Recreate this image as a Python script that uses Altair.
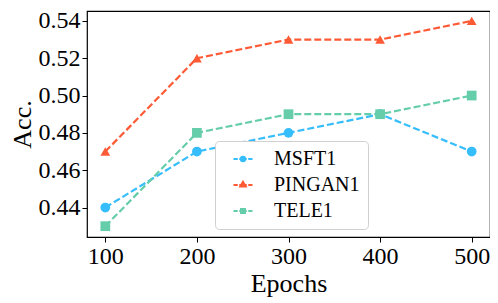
import altair as alt
import pandas as pd

epochs = [100, 200, 300, 400, 500]
series_names = ["MSFT1", "PINGAN1", "TELE1"]
msft1 = [0.44, 0.47, 0.48, 0.49, 0.47]
pingan1 = [0.47, 0.52, 0.53, 0.53, 0.54]
tele1 = [0.43, 0.48, 0.49, 0.49, 0.50]
colors = ["#36bdfb", "#fe5a36", "#66cdaa"]
shapes = ["circle", "triangle-up", "square"]
y_ticks = [0.44, 0.46, 0.48, 0.50, 0.52, 0.54]

rows = []
for name, vals in zip(series_names, [msft1, pingan1, tele1]):
    for e, v in zip(epochs, vals):
        rows.append({"Epochs": e, "Acc": v, "Series": name})
df = pd.DataFrame(rows)

font = "Liberation Serif"

# legend symbols: dashed line segment with a marker in the middle
dash = "M-1.9,0L-1.05,0M-0.75,0L0.75,0M1.05,0L1.9,0"


def circ(r):
    return f"M{-r},0A{r},{r},0,1,1,{r},0A{r},{r},0,1,1,{-r},0Z"


def tri(R):
    return f"M0,{-R}L{0.866 * R:.3f},{0.5 * R:.3f}L{-0.866 * R:.3f},{0.5 * R:.3f}Z"


def sq(h):
    return f"M{-h},{-h}L{h},{-h}L{h},{h}L{-h},{h}Z"


legend_paths = [
    dash + circ(0.42) + circ(0.18),
    dash + tri(0.6) + tri(0.28),
    dash + sq(0.38) + sq(0.15),
]

x = alt.X("Epochs:Q", scale=alt.Scale(domain=[80, 520], nice=False, zero=False),
          axis=alt.Axis(values=epochs, title="Epochs", format="d"))
y = alt.Y("Acc:Q", scale=alt.Scale(domain=[0.4242, 0.5453], nice=False, zero=False),
          axis=alt.Axis(values=y_ticks, title="Acc.", format=".2f"))
color_scale = alt.Scale(domain=series_names, range=colors)
color = alt.Color("Series:N", scale=color_scale, legend=None)

lines = alt.Chart(df).mark_line(strokeDash=[7, 3], strokeWidth=2.2).encode(x=x, y=y, color=color)

point_layers = []
for name, shp in zip(series_names, shapes):
    point_layers.append(
        alt.Chart(df).transform_filter(alt.datum.Series == name).mark_point(
            filled=True, size=95, opacity=1, shape=shp
        ).encode(x=x, y=y, color=color)
    )

leg = alt.Legend(title=None, orient="none", legendX=128, legendY=130)
legend_layer = alt.Chart(df).transform_filter("false").mark_point(
    filled=False, size=400, strokeWidth=2.2, opacity=1
).encode(
    x=x, y=y,
    color=alt.Color("Series:N", scale=color_scale, legend=leg),
    shape=alt.Shape("Series:N", scale=alt.Scale(domain=series_names, range=legend_paths), legend=leg),
)

chart = alt.layer(lines, *point_layers, legend_layer).resolve_scale(
    color="independent", shape="independent"
).properties(
    width=403, height=226,
    autosize=alt.AutoSizeParams(type="none"),
    padding={"left": 79, "top": 3, "right": 0, "bottom": 66},
).configure_view(stroke="black", strokeWidth=1.2).configure_axis(
    grid=False, domain=False, tickColor="black", tickSize=5, tickWidth=1,
    labelFont=font, labelFontSize=24, labelColor="black", labelPadding=2,
    titleFont=font, titleFontSize=26, titleFontWeight="normal", titleColor="black",
).configure_axisY(titlePadding=3).configure_axisX(titlePadding=2).configure_legend(
    labelFont=font, labelFontSize=20, labelColor="black",
    strokeColor="#d0d0d0", cornerRadius=4, padding=8, fillColor="white",
    symbolStrokeWidth=2.2, rowPadding=6, labelOffset=21, symbolOffset=10,
)

chart.save("out.html", embed_options={"renderer": "svg", "actions": False})
